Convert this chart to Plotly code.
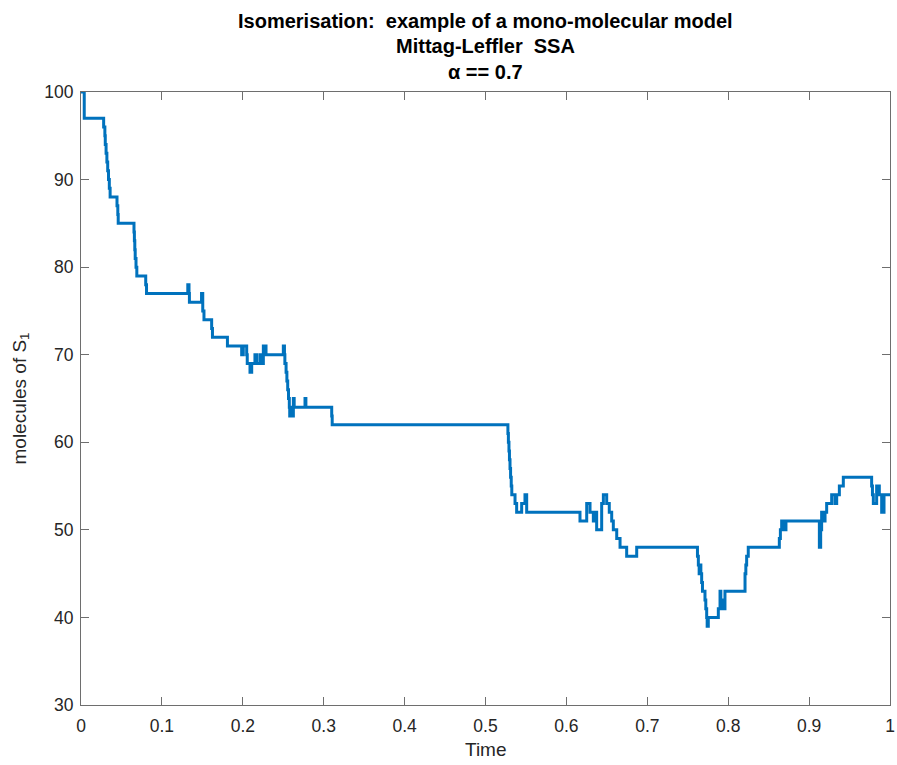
import plotly.graph_objects as go

# Reaction times (start of each step) and molecule counts of S1 after each event
switch_times = [
    0.0, 0.004, 0.028, 0.0295, 0.030, 0.031, 0.032, 0.033, 0.034, 0.035, 0.036,
    0.0445, 0.0455, 0.046, 0.0655, 0.066, 0.0665, 0.067, 0.068, 0.069,
    0.080, 0.081, 0.132, 0.1335, 0.134, 0.149, 0.1505, 0.152, 0.1615, 0.1625,
    0.181, 0.1986, 0.2006, 0.2048, 0.2055, 0.2089, 0.2110, 0.2150, 0.2172,
    0.2213, 0.2240, 0.2254, 0.2287,
    0.2501, 0.2515, 0.2520, 0.2535, 0.2545, 0.2555, 0.2565, 0.2575, 0.2580,
    0.2595, 0.2605, 0.2625, 0.2635, 0.2769, 0.2780, 0.3099, 0.3105,
    0.5277, 0.5283, 0.5290, 0.5296, 0.5303, 0.5310, 0.5318, 0.5325, 0.5365,
    0.5385, 0.5447, 0.5488, 0.5509,
    0.6168, 0.6251, 0.6292, 0.6333, 0.6354, 0.6374, 0.6436, 0.6457, 0.6498,
    0.6530, 0.6560, 0.6580, 0.6622, 0.6663, 0.6745, 0.6869,
    0.7620, 0.7631, 0.7641, 0.7651, 0.7662, 0.7672, 0.7682, 0.7713, 0.7723,
    0.7734, 0.7740, 0.7754, 0.7878, 0.7899, 0.7909, 0.7930, 0.7950, 0.7960,
    0.8208, 0.8218, 0.8228, 0.8248, 0.8632, 0.8645, 0.8661, 0.8690, 0.8714,
    0.9127, 0.9143, 0.9155, 0.9176, 0.9197, 0.9217, 0.9279, 0.9320, 0.9341,
    0.9374, 0.9423, 0.9773, 0.9783, 0.9794, 0.9835, 0.9868, 0.9897, 0.9926,
    1.0,
]
molecule_counts = [
    100, 97, 96, 95, 94, 93, 92, 91, 90, 89, 88,
    87, 86, 85, 84, 83, 82, 81, 80, 79,
    78, 77, 78, 77, 76, 77, 75, 74, 73, 72,
    71, 70, 71, 70, 69, 68, 69, 70, 69,
    70, 69, 71, 70,
    71, 70, 69, 68, 67, 66, 65, 64, 63,
    64, 63, 65, 64, 65, 64, 63, 62,
    61, 60, 59, 58, 57, 56, 55, 54, 53,
    52, 53, 54, 52,
    51, 53, 52, 51, 52, 50, 53, 54, 53,
    52, 51, 50, 49, 48, 47, 48,
    47, 46, 45, 46, 45, 44, 43, 42, 41,
    40, 39, 40, 41, 43, 41, 42, 41, 43,
    45, 46, 47, 48, 49, 50, 51, 50, 51,
    48, 50, 52, 51, 52, 53, 54, 53, 54,
    55, 56, 55, 54, 53, 55, 54, 52, 54,
    54,
]

x_ticks = [0, 0.1, 0.2, 0.3, 0.4, 0.5, 0.6, 0.7, 0.8, 0.9, 1]
x_tick_labels = ["0", "0.1", "0.2", "0.3", "0.4", "0.5", "0.6", "0.7", "0.8", "0.9", "1"]
y_ticks = [30, 40, 50, 60, 70, 80, 90, 100]

title_lines = [
    "Isomerisation:  example of a mono-molecular model",
    "Mittag-Leffler  SSA",
    "α == 0.7",
]

FONT = "Liberation Sans, Arial, Helvetica, sans-serif"
AXIS_GREY = "#6e6e6e"
TEXT_GREY = "#262626"

fig = go.Figure()
fig.add_trace(go.Scatter(
    x=switch_times,
    y=molecule_counts,
    mode="lines",
    line=dict(shape="hv", color="#0072BD", width=3),
    showlegend=False,
    hoverinfo="x+y",
))

axis_common = dict(
    showline=True, mirror="ticks", linecolor=AXIS_GREY, linewidth=1,
    ticks="inside", ticklen=8, tickcolor=AXIS_GREY, tickwidth=1,
    showgrid=False, zeroline=False, automargin=False,
    tickfont=dict(family=FONT, size=17.5, color=TEXT_GREY),
)

fig.update_xaxes(range=[0, 1], tickvals=x_ticks, ticktext=x_tick_labels,
                 ticklabelstandoff=5, **axis_common)
fig.update_yaxes(range=[30, 100], tickvals=y_ticks,
                 ticklabelstandoff=3, **axis_common)

# Three-line bold title, positioned line by line above the axes
annotations = []
for text, ypos in zip(title_lines, [1.1158, 1.0750, 1.0326]):
    annotations.append(dict(
        text=f"<b>{text}</b>", x=0.5, y=ypos, xref="paper", yref="paper",
        xanchor="center", yanchor="middle", showarrow=False,
        font=dict(family=FONT, size=20, color="black"),
    ))

annotations.append(dict(
    text="Time", x=0.5, y=-0.0734, xref="paper", yref="paper",
    xanchor="center", yanchor="middle", showarrow=False,
    font=dict(family=FONT, size=19, color=TEXT_GREY),
))
annotations.append(dict(
    text="molecules of S<sub>1</sub>", x=-0.0754, y=0.5, xref="paper", yref="paper",
    xanchor="center", yanchor="middle", showarrow=False, textangle=-90,
    font=dict(family=FONT, size=19, color=TEXT_GREY),
))

fig.update_layout(
    template="none",
    width=897, height=765,
    margin=dict(l=81, r=7, t=92, b=60, autoexpand=False),
    paper_bgcolor="white", plot_bgcolor="white",
    annotations=annotations,
)

fig.write_html("out.html")
